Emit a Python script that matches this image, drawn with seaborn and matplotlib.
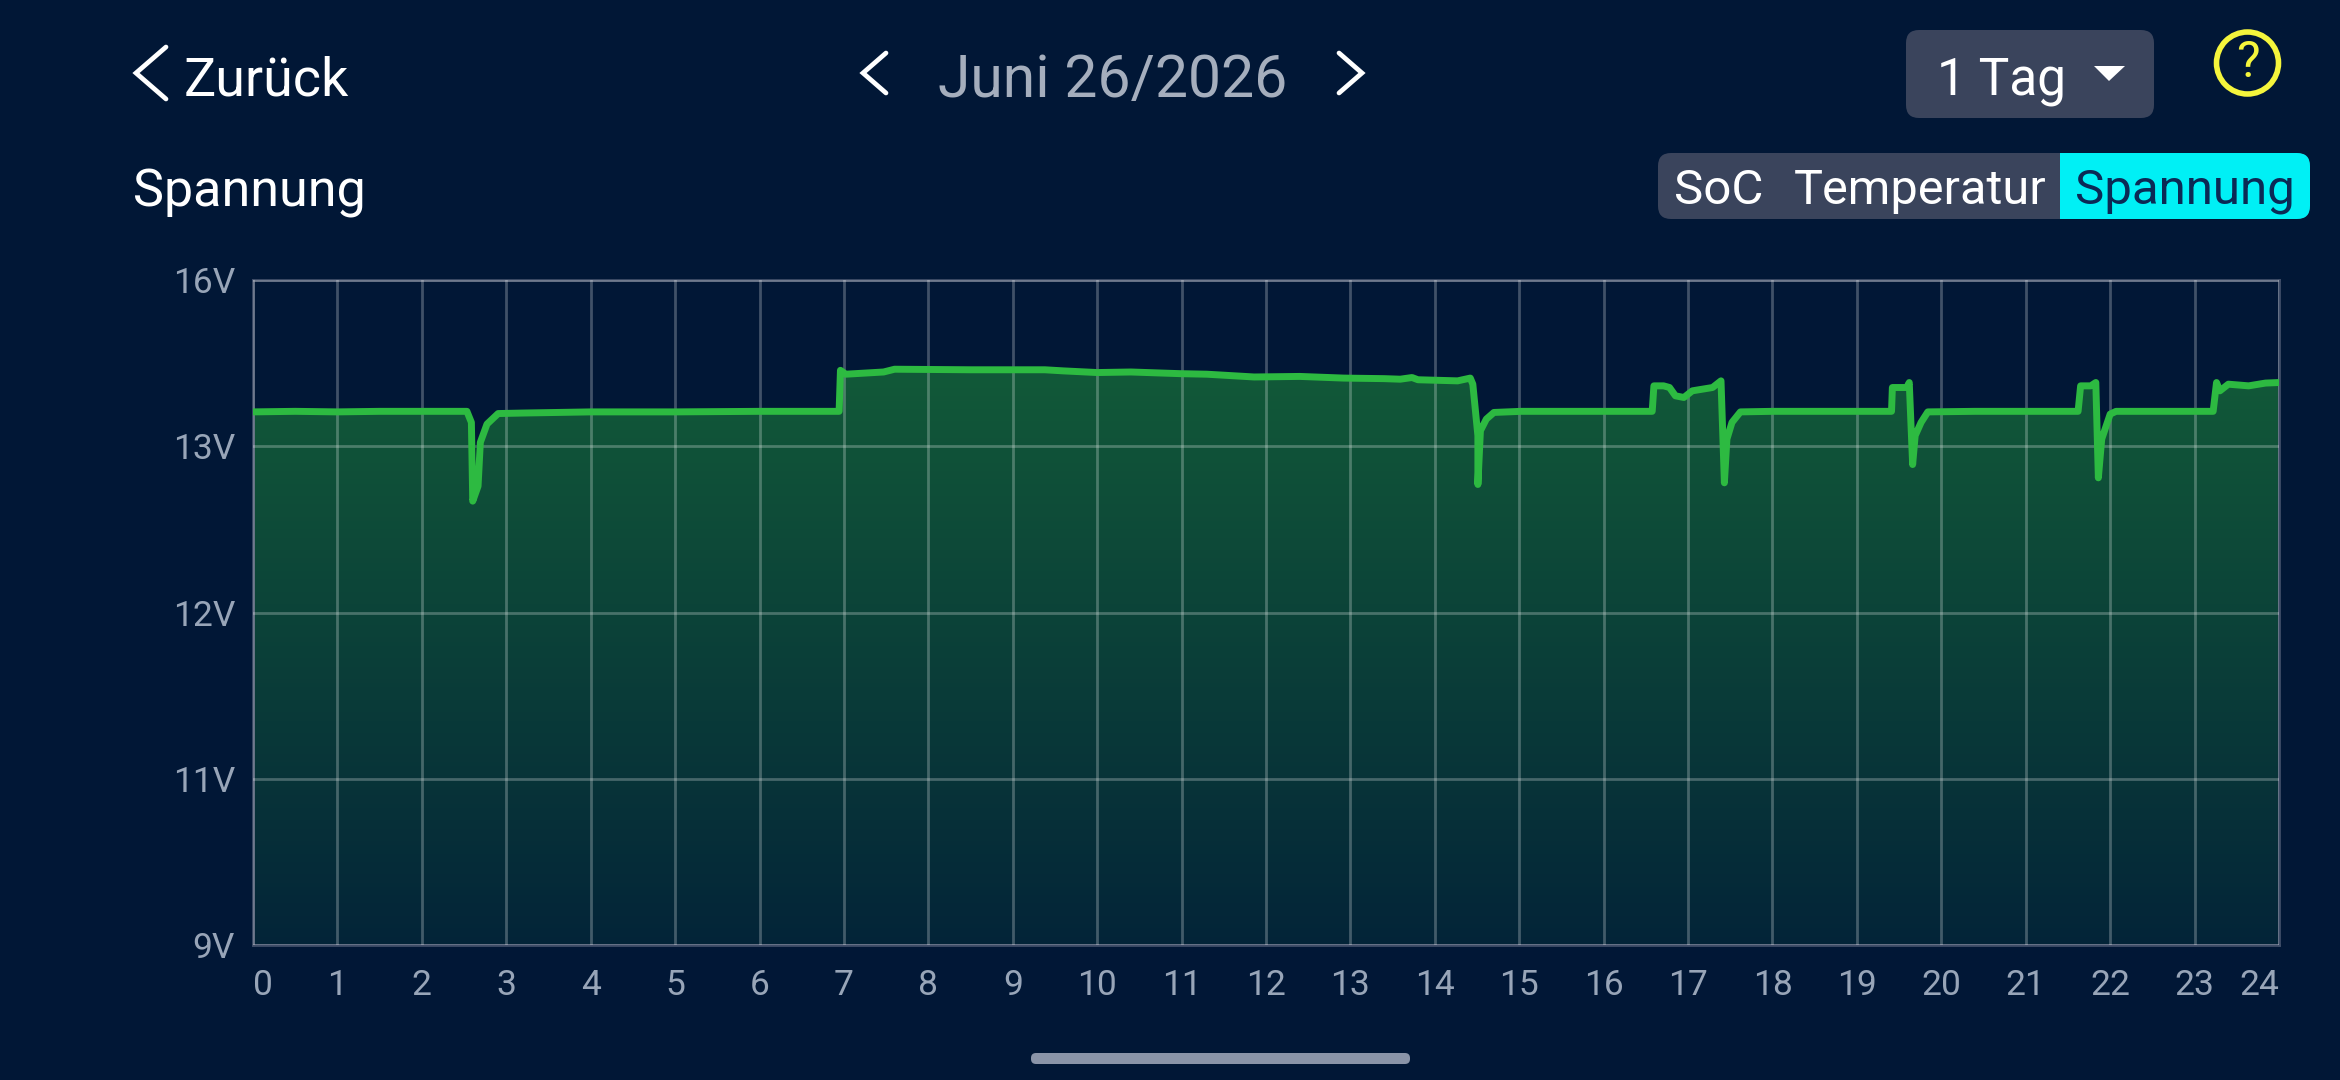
import numpy as np
import pandas as pd
import seaborn as sns
import matplotlib.pyplot as plt
from matplotlib.colors import LinearSegmentedColormap
from matplotlib.patches import FancyBboxPatch, Circle, Polygon, Rectangle

# values: hour of day / battery voltage
hours = [0, 0.5, 1, 1.5, 2, 2.534, 2.587, 2.603, 2.666, 2.693, 2.772, 2.904, 3.22, 4, 5, 6, 6.943, 6.959,
         7.022, 7.47, 7.6, 8.5, 9.38, 9.6, 10, 10.4, 10.98, 11.3, 11.86, 12.4, 12.92, 13.4, 13.59, 13.73, 13.8,
         14.27, 14.42, 14.45, 14.51, 14.51, 14.54, 14.61, 14.7, 15.02, 16, 16.575, 16.595, 16.71, 16.78, 16.85,
         16.95, 17.05, 17.29, 17.39, 17.43, 17.46, 17.52, 17.62, 18, 19, 19.41, 19.42, 19.59, 19.62, 19.66, 19.69,
         19.76, 19.84, 20.4, 21, 21.62, 21.65, 21.77, 21.83, 21.86, 21.9, 22.0, 22.07, 22.6, 23.22, 23.26, 23.3,
         23.4, 23.64, 23.84, 24]
volts = [13.62, 13.63, 13.62, 13.63, 13.63, 13.63, 13.43, 12.67, 12.76, 13.07, 13.4, 13.59, 13.6, 13.62, 13.62,
         13.63, 13.63, 14.37, 14.3, 14.34, 14.39, 14.38, 14.38, 14.36, 14.33, 14.34, 14.31, 14.3, 14.25, 14.26, 14.23,
         14.22, 14.21, 14.24, 14.2, 14.18, 14.23, 14.12, 13.19, 12.77, 13.28, 13.49, 13.61, 13.63, 13.63, 13.63,
         14.09, 14.09, 14.06, 13.91, 13.88, 14.0, 14.06, 14.18, 12.78, 13.13, 13.43, 13.62, 13.63, 13.63, 13.63, 14.06,
         14.06, 14.15, 12.89, 13.19, 13.43, 13.62, 13.63, 13.63, 13.63, 14.09, 14.09, 14.15, 12.81, 13.13, 13.58,
         13.63, 13.63, 13.63, 14.15, 14.0, 14.12, 14.09, 14.14, 14.15]

x_ticks = list(range(25))
y_ticks = [9, 11, 12, 13, 16]
y_labels = ['9V', '11V', '12V', '13V', '16V']
y_pos = [0, 1, 2, 3, 4]  # the app spaces the voltage ticks evenly

BG = '#011736'
GREY = '#98a5b8'
CHIP = '#3a445c'

sns.set_style('dark')
plt.rcParams['font.family'] = ['Roboto', 'DejaVu Sans']

fig = plt.figure(figsize=(23.4, 10.8), dpi=100, facecolor=BG)
ax = fig.add_axes([253 / 2340, 1 - 945 / 1080, 2026 / 2340, 665 / 1080], facecolor=BG)


def forward(v):
    return np.interp(v, y_ticks, y_pos)


def inverse(p):
    return np.interp(p, y_pos, y_ticks)


ax.set_yscale('function', functions=(forward, inverse))

df = pd.DataFrame({'hour': hours, 'volt': volts})

# gradient under the line, clipped to the area below it
area = ax.fill_between(df['hour'], 9, df['volt'], color='none', lw=0)
rows = np.linspace(0, 4, 161)
shade = ((rows[:-1] + rows[1:]) / 2).reshape(-1, 1)
cmap = LinearSegmentedColormap.from_list('fill', ['#032438', '#115838'])
mesh = ax.pcolormesh([0, 24], inverse(rows), shade, cmap=cmap, vmin=0, vmax=3.4, zorder=1, rasterized=True)
mesh.set_clip_path(area.get_paths()[0], transform=area.get_transform())

sns.lineplot(data=df, x='hour', y='volt', estimator=None, sort=False, color='#2dba41', linewidth=5,
             solid_joinstyle='round', ax=ax, zorder=5)

ax.set_xlim(0, 24)
ax.set_ylim(9, 16)
ax.set_xlabel('')
ax.set_ylabel('')
ax.set_xticks(x_ticks)
ax.set_xticklabels([str(h) for h in x_ticks])
ax.set_yticks(y_ticks)
ax.set_yticklabels(y_labels)
ax.minorticks_off()
ax.set_axisbelow(False)
ax.grid(True, color='white', alpha=0.25, lw=2)
ax.tick_params(length=0, labelcolor=GREY, labelsize=25.5)
ax.tick_params(axis='x', pad=17)
ax.tick_params(axis='y', pad=13)
ax.get_xticklabels()[0].set_ha('left')
ax.get_xticklabels()[-1].set_ha('right')
for s in ax.spines.values():
    s.set_color('#3f4d68')
    s.set_linewidth(2)
    s.set_visible(True)

# app header, drawn in screen pixels on top of the chart
ui = fig.add_axes([0, 0, 1, 1])
ui.set_xlim(0, 2340)
ui.set_ylim(1080, 0)
ui.axis('off')


def chevron(xa, xb, ymid, half, lw=3.4):
    ui.plot([xa, xb, xa], [ymid - half, ymid, ymid + half], color='white', lw=lw,
            solid_capstyle='round', solid_joinstyle='miter')


def chip(x0, y0, x1, y1, color, r=13):
    p = FancyBboxPatch((x0 + r, y0 + r), x1 - x0 - 2 * r, y1 - y0 - 2 * r, boxstyle=f'round,pad={r},rounding_size={r}',
                       fc=color, ec='none')
    ui.add_patch(p)
    return p


chevron(166, 136, 73, 26)
ui.text(184, 95, 'Zurück', color='white', fontsize=38.8, va='baseline')
chevron(886, 863, 73, 20)
ui.text(938, 97, 'Juni 26/2026', color='#a5aebd', fontsize=42.4, va='baseline')
chevron(1339, 1362, 73, 20)

chip(1906, 30, 2154, 118, CHIP)
ui.text(1937, 94, '1 Tag', color='white', fontsize=37, va='baseline')
ui.add_patch(Polygon([(2094, 66), (2125, 66), (2109, 81)], fc='white', ec='none'))

ui.add_patch(Circle((2247.5, 63), 31, fc='none', ec='#f5f53c', lw=4))
ui.text(2247.5, 63, '?', color='#f5f53c', fontsize=36, ha='center', va='center')

ui.text(133, 206, 'Spannung', color='white', fontsize=37.5, va='baseline')

chip(1658, 153, 2310, 219, CHIP)
cyan = chip(1980, 153, 2310, 219, '#00f0f5')
cyan.set_clip_path(Rectangle((2060, 150), 260, 72, transform=ui.transData))
ui.text(1674, 204, 'SoC', color='white', fontsize=35.5, va='baseline')
ui.text(1794, 204, 'Temperatur', color='white', fontsize=35, va='baseline')
ui.text(2075, 204, 'Spannung', color='#0b2a55', fontsize=35.5, va='baseline')

# home indicator
chip(1031, 1053, 1410, 1064, '#8a94a8', r=5)

fig.savefig('out.png', dpi=100, facecolor=BG)
